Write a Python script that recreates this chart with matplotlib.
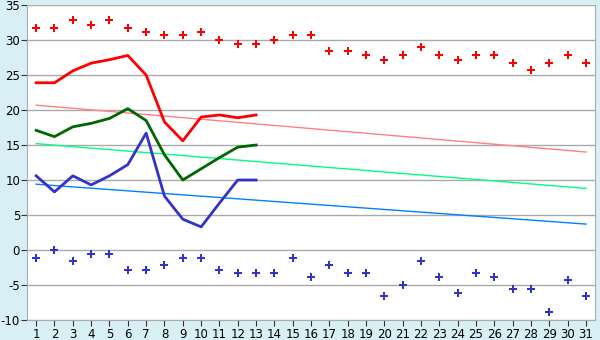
# daily temperatures vs. normals for one month
import matplotlib.pyplot as plt

days = list(range(1, 32))

# record highs / record lows (dots)
record_high = [31.7, 31.7, 32.8, 32.2, 32.8, 31.7, 31.1, 30.7, 30.7, 31.1,
               30.0, 29.4, 29.4, 30.0, 30.7, 30.7, 28.4, 28.4, 27.8, 27.2,
               27.8, 29.0, 27.8, 27.2, 27.8, 27.8, 26.7, 25.7, 26.7, 27.8, 26.7]
record_low = [-1.1, 0.0, -1.6, -0.6, -0.6, -2.8, -2.8, -2.2, -1.1, -1.1,
              -2.8, -3.3, -3.3, -3.3, -1.1, -3.9, -2.2, -3.3, -3.3, -6.6,
              -5.0, -1.6, -3.9, -6.1, -3.3, -3.9, -5.6, -5.6, -8.9, -4.3, -6.6]

# observed values so far (days 1-13)
obs_days = list(range(1, 14))
obs_max = [23.9, 23.9, 25.6, 26.7, 27.2, 27.8, 25.0, 18.3, 15.6, 19.0, 19.3, 18.9, 19.3]
obs_mean = [17.1, 16.2, 17.6, 18.1, 18.8, 20.2, 18.5, 13.6, 10.0, 11.6, 13.2, 14.7, 15.0]
obs_min = [10.6, 8.3, 10.6, 9.3, 10.6, 12.2, 16.7, 7.7, 4.4, 3.3, 6.7, 10.0, 10.0]

# normals, first and last day of the month
norm_days = [1, 31]
norm_max = [20.7, 14.0]
norm_mean = [15.2, 8.8]
norm_min = [9.4, 3.7]

plt.rcParams['axes.unicode_minus'] = False

fig = plt.figure(figsize=(6, 3.4), dpi=100, facecolor='#d9eff6')
ax = fig.add_axes([0.045, 0.059, 0.947, 0.926])
ax.set_facecolor('white')

ax.plot(norm_days, norm_max, color='#ff8080', lw=1)
ax.plot(norm_days, norm_mean, color='#00ff80', lw=1)
ax.plot(norm_days, norm_min, color='#0080ff', lw=1)

ax.plot(obs_days, obs_max, color='#ff0000', lw=2)
ax.plot(obs_days, obs_mean, color='#006600', lw=2)
ax.plot(obs_days, obs_min, color='#3333cc', lw=2)

ax.plot(days, record_high, 'P', color='#ff0000', ms=5.5, mew=0, ls='none')
ax.plot(days, record_low, 'P', color='#3333cc', ms=5.5, mew=0, ls='none')

ax.set_xlim(0.5, 31.5)
ax.set_ylim(-10, 35)
ax.set_xticks(days)
ax.set_yticks(range(-10, 36, 5))
ax.yaxis.grid(True, color='#aaaaaa', lw=1)
ax.set_axisbelow(True)

for s in ['left', 'bottom', 'right']:
    ax.spines[s].set_color('#aaaaaa')
ax.spines['top'].set_visible(False)
ax.tick_params(axis='both', labelsize=8.5, length=4, color='#333333', pad=2)
ax.tick_params(axis='y', pad=1)

fig.savefig('out.png', dpi=100, facecolor=fig.get_facecolor())
